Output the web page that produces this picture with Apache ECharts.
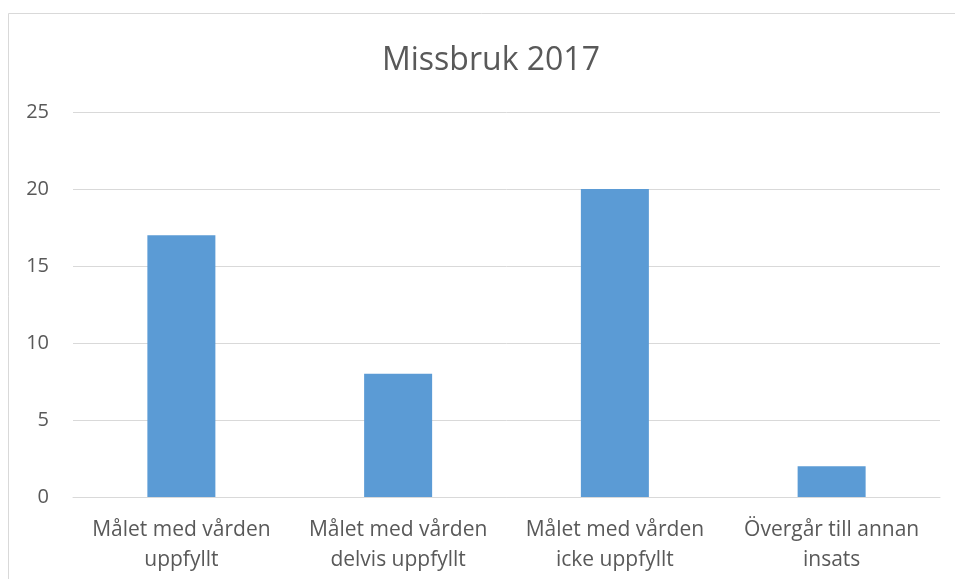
<!DOCTYPE html>
<html>
<head>
<meta charset="utf-8">
<script src="https://cdn.jsdelivr.net/npm/echarts@6/dist/echarts.min.js"></script>
<style>
  html, body { margin: 0; padding: 0; background: #fff; }
  #chart { width: 955px; height: 579px; }
</style>
</head>
<body>
<div id="chart"></div>
<script>
const categories = [
  'Målet med vården\nuppfyllt',
  'Målet med vården\ndelvis uppfyllt',
  'Målet med vården\nicke uppfyllt',
  'Övergår till annan\ninsats'
]
const values = [17, 8, 20, 2]

const myChart = echarts.init(document.getElementById('chart'))

const option = {
  backgroundColor: '#fff',
  textStyle: { fontFamily: 'Open Sans' },
  title: {
    text: 'Missbruk 2017',
    left: 377,
    top: 40,
    textStyle: { fontFamily: 'Open Sans', fontSize: 32, fontWeight: 'normal', color: '#595959' }
  },
  // chart frame (left and top edges visible)
  graphic: [
    { type: 'line', shape: { x1: 8.5, y1: 13.5, x2: 8.5, y2: 579 }, style: { stroke: '#d9d9d9', lineWidth: 1 } },
    { type: 'line', shape: { x1: 8.5, y1: 13.5, x2: 955, y2: 13.5 }, style: { stroke: '#d9d9d9', lineWidth: 1 } }
  ],
  grid: { left: 73, right: 15, top: 112, bottom: 82 },
  xAxis: {
    type: 'category',
    data: categories,
    axisTick: { show: false },
    axisLine: { lineStyle: { color: '#d9d9d9' } },
    axisLabel: {
      color: '#595959',
      fontSize: 21,
      lineHeight: 30,
      margin: 18,
      interval: 0
    }
  },
  yAxis: {
    type: 'value',
    min: 0,
    max: 25,
    interval: 5,
    axisLine: { show: false },
    axisTick: { show: false },
    splitLine: { lineStyle: { color: '#d9d9d9' } },
    axisLabel: { color: '#595959', fontSize: 20, margin: 24 }
  },
  series: [
    {
      type: 'bar',
      data: values,
      barWidth: 68,
      itemStyle: { color: '#5b9bd5' }
    }
  ]
}
myChart.setOption(option)
</script>
</body>
</html>
